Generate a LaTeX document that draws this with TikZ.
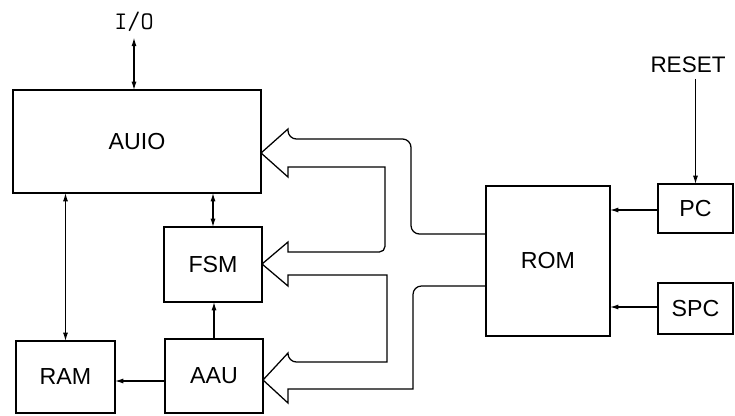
\documentclass[tikz,border=0pt]{standalone}
\usepackage{fontspec}
\setmainfont{Liberation Sans}
\usetikzlibrary{arrows.meta}
\tikzset{
  blk/.style={draw, line width=0.9pt, inner sep=0pt, outer sep=0pt, font=\fontsize{16.5}{18}\selectfont},
  lbl/.style={inner sep=4pt, font=\fontsize{16}{18}\selectfont},
  sig/.style={line width=0.8pt, -{Latex[length=6pt,width=3.6pt]}},
  bisig/.style={line width=0.8pt, {Latex[length=6pt,width=3.6pt]}-{Latex[length=6pt,width=3.6pt]}},
  bus/.style={line width=0.9pt}
}
\begin{document}
\begin{tikzpicture}[x=0.025cm, y=-0.025cm]
  \useasboundingbox (0,0) rectangle (735,415);
  % Bloques
  \node[blk, minimum width=6.2cm, minimum height=2.575cm] (auio) at (137,141.5) {AUIO};
  \node[blk, minimum width=2.45cm, minimum height=1.875cm] (fsm) at (213,264.5) {FSM};
  \node[blk, minimum width=2.45cm, minimum height=1.85cm] (aau) at (214,376) {AAU};
  \node[blk, minimum width=2.475cm, minimum height=1.8cm] (ram) at (65.5,377) {RAM};
  \node[blk, minimum width=3.1cm, minimum height=3.75cm] (rom) at (548,261) {ROM};
  \node[blk, minimum width=1.875cm, minimum height=1.225cm] (pc) at (695.5,208.5) {PC};
  \node[blk, minimum width=1.875cm, minimum height=1.275cm] (spc) at (695.5,308.5) {SPC};
  \node[lbl, font=\ttfamily\fontsize{18}{20}\selectfont, inner sep=4pt] (io) at (134,22) {I/O};
  \node[lbl] (reset) at (688,65) {RESET};
  % Señales
  \draw[bisig] (io.south) -- (io.south |- auio.north);
  \draw[bisig] (fsm.north) -- (fsm.north |- auio.south);
  \draw[bisig] (ram.north) -- (ram.north |- auio.south);
  \draw[sig] (aau.north) -- (aau.north |- fsm.south);
  \draw[sig] (aau.west |- 0,381) -- (ram.east |- 0,381);
  \draw[sig] (reset.south -| pc.north) -- (pc.north);
  \draw[sig] (pc.west |- 0,210) -- (rom.east |- 0,210);
  \draw[sig] (spc.west |- 0,307) -- (rom.east |- 0,307);
  % Bus de la ROM (flechas huecas)
  \draw[bus] (rom.west |- 0,234) [rounded corners=6pt] -- (411,234) -- (411,139) -- (288,139)
    [sharp corners] -- (288,129) -- (auio.east |- 0,153) -- (288,177) -- (288,167) -- (385,167)
    [rounded corners=4pt] -- (385,252)
    [sharp corners] -- (288,252) -- (288,242) -- (fsm.east |- 0,264) -- (288,286) -- (288,275) -- (387,275) -- (387,362)
    [rounded corners=6pt] -- (288,362)
    [sharp corners] -- (288,353) -- (aau.east |- 0,380) -- (288,403) -- (288,389) -- (413,389)
    [rounded corners=6pt] -- (413,286) -- (rom.west |- 0,286);
\end{tikzpicture}
\end{document}
